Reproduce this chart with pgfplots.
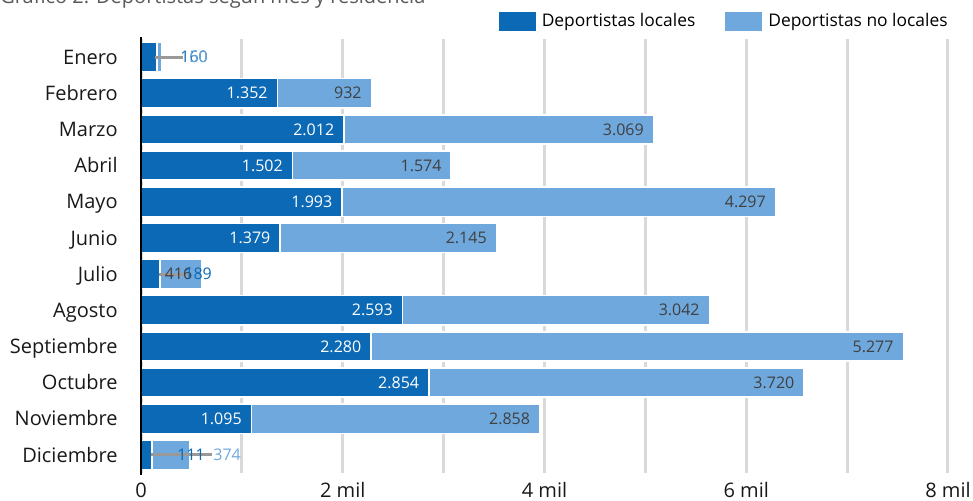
\documentclass[border=0pt]{standalone}
\usepackage{pgfplots}
\pgfplotsset{compat=1.18}
\usepackage{pgfplotstable}
\usepackage{fontspec}
\setmainfont{Open Sans}
\definecolor{dark}{HTML}{0B69B5}
\definecolor{light}{HTML}{6FA8DC}
\definecolor{gridc}{HTML}{D9D9D9}
\definecolor{lblgray}{HTML}{404040}
\definecolor{titlegray}{HTML}{595959}
\definecolor{leader}{HTML}{999999}

\pgfplotstableread{
idx loc non ll nl
0 160 50 {} {}
1 1352 932 1.352 932
2 2012 3069 2.012 3.069
3 1502 1574 1.502 1.574
4 1993 4297 1.993 4.297
5 1379 2145 1.379 2.145
6 189 416 {} 416
7 2593 3042 2.593 3.042
8 2280 5277 2.280 5.277
9 2854 3720 2.854 3.720
10 1095 2858 1.095 2.858
11 111 374 {} {}
}\data

\begin{document}
\begin{tikzpicture}
\begin{axis}[
  at={(70.5pt,13.5pt)}, anchor=south west,
  scale only axis, width=403.5pt, height=217pt,
  xmin=0, xmax=8000, ymin=-0.5, ymax=11.5, y dir=reverse,
  xtick={0,2000,4000,6000,8000}, xticklabels={0,2 mil,4 mil,6 mil,8 mil},
  minor xtick={1000,3000,5000,7000},
  xmajorgrids, xminorgrids,
  major grid style={gridc, line width=1.5pt},
  minor grid style={gridc, line width=1.5pt},
  ytick={0,...,11},
  yticklabels={Enero,Febrero,Marzo,Abril,Mayo,Junio,Julio,Agosto,Septiembre,Octubre,Noviembre,Diciembre},
  major tick length=0pt, minor tick length=0pt,
  axis line style={draw=none},
  tick label style={font=\fontsize{10}{12}\selectfont, text=black!90},
  xticklabel style={anchor=north, inner sep=0pt, yshift=-5pt, text height=7.14pt, text depth=0pt},
  yticklabel style={anchor=east, inner sep=0pt, xshift=-11.5pt, text height=7.14pt, text depth=0pt},
  clip=false,
  legend style={draw=none, fill=none, at={(1,1.0403)}, anchor=east, legend columns=2,
    font=\fontsize{8.7}{10}\selectfont, inner sep=0pt,
    nodes={inner xsep=0pt, inner ysep=0pt},
    /tikz/every odd column/.append style={column sep=3pt},
    /tikz/every even column/.append style={column sep=15pt}},
  legend cell align=left,
  legend image code/.code={\fill[#1, draw=none] (0pt,-4.75pt) rectangle (18.5pt,4.75pt);},
]
\addlegendimage{fill=dark, draw=none}
\addlegendentry{Deportistas locales}
\addlegendimage{fill=light, draw=none}
\addlegendentry{Deportistas no locales}

% total bars (light, non-local segment visible)
\addplot[forget plot, xbar, bar shift=0pt, bar width=14.6pt, fill=light, draw=white, line width=0.8pt,
  nodes near coords, point meta=explicit symbolic,
  nodes near coords style={anchor=east, xshift=-4.5pt, inner sep=0pt, text=lblgray,
    font=\fontsize{8}{10}\selectfont, text height=5.7pt, text depth=0pt}]
  table[x expr=\thisrow{loc}+\thisrow{non}, y=idx, meta=nl]{\data};
% local bars
\addplot[forget plot, xbar, bar shift=0pt, bar width=14.6pt, fill=dark, draw=white, line width=0.8pt,
  nodes near coords, point meta=explicit symbolic,
  nodes near coords style={anchor=east, xshift=-4.5pt, inner sep=0pt, text=white,
    font=\fontsize{8}{10}\selectfont, text height=5.7pt, text depth=0pt}]
  table[x=loc, y=idx, meta=ll]{\data};

% leader lines
\addplot[forget plot, leader, line width=1.5pt] coordinates {(139,0) (416,0)};
\addplot[forget plot, leader, line width=1.5pt] coordinates {(178,6) (456,6)};
\addplot[forget plot, leader, line width=1.5pt] coordinates {(99,11) (704,11)};

% outside labels
\addplot[forget plot, draw=none, mark=none, nodes near coords, point meta=explicit symbolic,
  nodes near coords style={anchor=west, inner sep=0pt, text=dark,
    font=\fontsize{8}{10}\selectfont, text height=5.7pt, text depth=0pt}]
  coordinates {(387,0)[160] (426,6)[189] (357,11)[111]};
\addplot[forget plot, draw=none, mark=none, nodes near coords, point meta=explicit symbolic,
  nodes near coords style={anchor=west, inner sep=0pt, text=light,
    font=\fontsize{8}{10}\selectfont, text height=5.7pt, text depth=0pt}]
  coordinates {(476,0)[50] (714,11)[374]};

% left axis line
\addplot[forget plot, black, line width=1.3pt] coordinates {(0,-0.55) (0,11.55)};
\end{axis}
\node[anchor=base west, inner sep=0pt, text=titlegray, font=\fontsize{10}{12}\selectfont]
  at (0pt,248.3pt) {Gráfico 2. Deportistas según mes y residencia};
\pgfresetboundingbox
\useasboundingbox (0pt,0pt) rectangle (486.5pt,250pt);
\end{tikzpicture}
\end{document}
